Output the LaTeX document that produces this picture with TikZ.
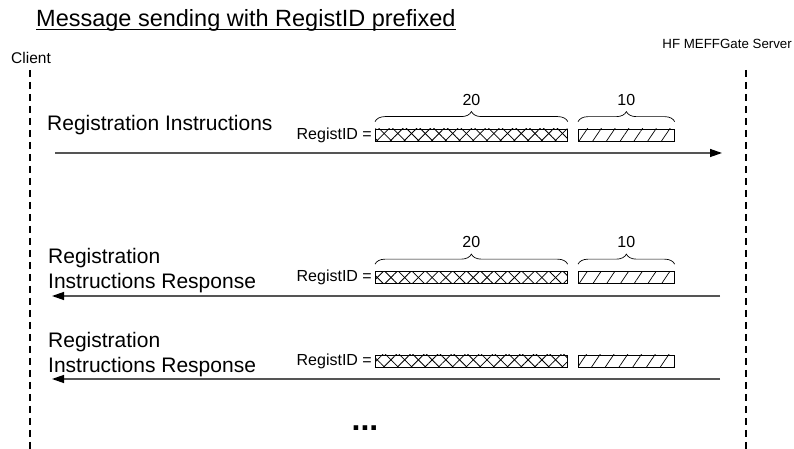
\documentclass[tikz,border=0pt]{standalone}
\usepackage{fontspec}
\setmainfont{Liberation Sans}
\usepackage{xcolor}
\usepackage{tikz}
\usetikzlibrary{positioning,arrows.meta,patterns.meta,decorations.pathreplacing}
\definecolor{shaftGray}{HTML}{555555}

\begin{document}
\begin{tikzpicture}[x=1pt,y=1pt,
  lifeline/.style={line width=1.3pt, dash pattern=on 7pt off 5pt},
  msg/.style={draw=shaftGray, line width=1.3pt, -{Triangle[length=12pt,width=8pt,color=black]}},
  msgtext/.style={font=\fontsize{21}{25}\selectfont, align=left, anchor=west, inner sep=0pt},
  idlabel/.style={font=\fontsize{16}{18}\selectfont, anchor=east, inner sep=0pt},
  idbox/.style={draw, line width=0.7pt, minimum height=12pt, inner sep=0pt, anchor=west},
  ridfield/.style={idbox, minimum width=192pt,
    pattern={Lines[angle=45,distance=9.7pt,line width=0.8pt]},
    postaction={pattern={Lines[angle=-45,distance=9.7pt,line width=0.8pt]}}},
  colfield/.style={idbox, minimum width=96pt,
    pattern={Lines[angle=56,distance=11.4pt,line width=0.7pt]}},
  lenbrace/.style={decorate, decoration={brace, amplitude=10pt}, line width=0.7pt},
  lentext/.style={font=\fontsize{16}{18}\selectfont, inner sep=0pt, above=16pt}]
  \useasboundingbox (0,0) rectangle (794,449);

  % header
  \node[font=\fontsize{23.5}{26}\selectfont, anchor=west, inner sep=0pt] (title) at (36, 429) {Message sending with RegistID prefixed};
  \draw[line width=1pt] ([yshift=-3.5pt]title.base west) -- ([yshift=-3.5pt]title.base east);
  \node[font=\fontsize{15.5}{17}\selectfont, anchor=west, inner sep=0pt] (client) at (11, 391) {Client};
  \node[font=\fontsize{13.3}{15}\selectfont, anchor=east, inner sep=0pt] (server) at (792, 405) {HF MEFFGate Server};

  % lifelines
  \coordinate (clientTop) at (30, 379);
  \coordinate (clientEnd) at (30, 0);
  \coordinate (serverTop) at (746, 379);
  \coordinate (serverEnd) at (746, 0);
  \draw[lifeline] (clientTop) -- (clientEnd);
  \draw[lifeline] (serverTop) -- (serverEnd);

  % registration instructions
  \node[msgtext] (reqText) at (47, 324) {Registration Instructions};
  \node[idlabel] (reqId) at (372, 314) {RegistID =};
  \node[ridfield] (reqRid) at (375, 314) {};
  \node[colfield] (reqCol) at (578, 314) {};
  \draw[lenbrace] ([yshift=7pt]reqRid.north west) -- ([yshift=7pt]reqRid.north east) node[lentext, midway] (reqRidLen) {20};
  \draw[lenbrace] ([yshift=7pt]reqCol.north west) -- ([yshift=7pt]reqCol.north east) node[lentext, midway] (reqColLen) {10};
  \coordinate (reqFrom) at (55, 296);
  \coordinate (reqTo) at (722, 296);
  \draw[msg] (reqFrom) -- (reqTo);

  % first response
  \node[msgtext] (rspText) at (48, 178.5) {Registration\\Instructions Response};
  \node[idlabel] (rspId) at (372, 171.5) {RegistID =};
  \node[ridfield] (rspRid) at (375, 171.5) {};
  \node[colfield] (rspCol) at (578, 171.5) {};
  \draw[lenbrace] ([yshift=7pt]rspRid.north west) -- ([yshift=7pt]rspRid.north east) node[lentext, midway] (rspRidLen) {20};
  \draw[lenbrace] ([yshift=7pt]rspCol.north west) -- ([yshift=7pt]rspCol.north east) node[lentext, midway] (rspColLen) {10};
  \coordinate (rspFrom) at (720, 153);
  \coordinate (rspTo) at (52, 153);
  \draw[msg] (rspFrom) -- (rspTo);

  % second response
  \node[msgtext] (rsp2Text) at (48, 94.5) {Registration\\Instructions Response};
  \node[idlabel] (rsp2Id) at (372, 88) {RegistID =};
  \node[ridfield] (rsp2Rid) at (375, 88) {};
  \node[colfield] (rsp2Col) at (578, 88) {};
  \coordinate (rsp2From) at (720, 70);
  \coordinate (rsp2To) at (52, 70);
  \draw[msg] (rsp2From) -- (rsp2To);

  % more messages
  \node[font=\fontsize{32}{34}\selectfont\bfseries, inner sep=0pt] (more) at (365, 21) {...};
\end{tikzpicture}
\end{document}
